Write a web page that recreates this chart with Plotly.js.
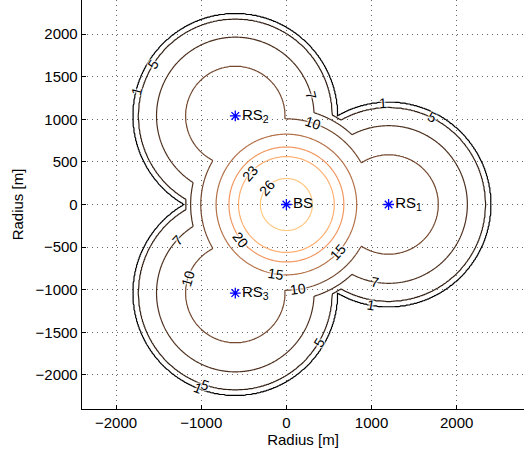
<!DOCTYPE html>
<html>
<head>
<meta charset="utf-8">
<script src="https://cdn.plot.ly/plotly-3.0.1.min.js"></script>
<style>html,body{margin:0;padding:0;background:#fff;}#chart{width:524px;height:455px;}</style>
</head>
<body>
<div id="chart"></div>
<script>
// ---- data ----
const levels = [1, 5, 7, 10, 15, 20, 23, 26];
// radius (m) of each contour level around the base station
const bsRadius = [1192, 1182, 1125, 1005, 825, 675, 563, 305];
// radius (m) of each contour level around a relay station (only levels 1..10 exist)
const rsLevels = [1, 5, 7, 10];
const rsRadius = [1198, 1140, 925, 585];
const bsPeak = 30;   // value at the BS (above highest contour)
const rsPeak = 12;   // value at an RS (between 10 and 15)
const stationNames = ['BS', 'RS<sub>1</sub>', 'RS<sub>2</sub>', 'RS<sub>3</sub>'];
const stationX = [0, 1200, -600, -600];
const stationY = [0, 0, 1039, -1039];
// contour labels: level, station index it circles, angle (deg) around that station
const labelLevel   = [1, 5, 7, 10, 1, 5, 23, 26, 20, 15, 15, 10, 7, 1, 7, 10, 5, 5, 1];
const labelStation = [2, 2, 2, 0, 1, 1, 0, 0, 0, 0, 0, 0, 1, 1, 3, 3, 3, 3, 3];
const labelAngle   = [165.7, 147.6, 14.8, 71.8, 93.1, 63.6, 138.7, 139.4, 217.6, 261.7,
                      317.3, 277.8, 259.9, 260.3, 137.3, 163.2, 329.3, 251.7, 248.5];

// ---- styles ----
function copper(v) { // MATLAB copper colormap, clim [1,26]
  const t = (v - 1) / 25;
  const r = Math.min(1, 1.25 * t), g = 0.7812 * t, b = 0.4975 * t;
  return 'rgb(' + Math.round(r * 255) + ',' + Math.round(g * 255) + ',' + Math.round(b * 255) + ')';
}

function makeProfile(rad, lev, peak) {
  const pts = rad.map((r, i) => [r, lev[i]]);
  pts.push([0, peak]);
  pts.push([5000, -10]);
  pts.sort((a, b) => a[0] - b[0]);
  return function (d) {
    for (let i = 1; i < pts.length; i++) {
      if (d <= pts[i][0]) {
        const t = (d - pts[i - 1][0]) / (pts[i][0] - pts[i - 1][0]);
        return pts[i - 1][1] + t * (pts[i][1] - pts[i - 1][1]);
      }
    }
    return pts[pts.length - 1][1];
  };
}
const fBS = makeProfile(bsRadius, levels, bsPeak);
const fRS = makeProfile(rsRadius, rsLevels, rsPeak);

const step = 10;
const gx = [], gy = [];
for (let x = -2400; x <= 2790; x += step) gx.push(x);
for (let y = -2400; y <= 2400; y += step) gy.push(y);
const z = gy.map(y => gx.map(x => {
  let v = fBS(Math.hypot(x - stationX[0], y - stationY[0]));
  for (let k = 1; k < stationX.length; k++) {
    v = Math.max(v, fRS(Math.hypot(x - stationX[k], y - stationY[k])));
  }
  return v;
}));

const FONT = 'Liberation Sans, Arial, Helvetica, sans-serif';
const traces = levels.map(L => ({
  type: 'contour', x: gx, y: gy, z: z,
  autocontour: false,
  contours: { start: L, end: L, size: 1, coloring: 'none', showlabels: false },
  line: { color: copper(L), width: 1.2, smoothing: 0 },
  showscale: false, hoverinfo: 'skip'
}));
traces.push({
  type: 'scatter', mode: 'markers+text',
  x: stationX, y: stationY, text: stationNames,
  textposition: 'middle right',
  textfont: { family: FONT, size: 15, color: '#000' },
  marker: { symbol: 'asterisk-open', size: 9, color: '#0000ff', line: { color: '#0000ff', width: 1.3 } },
  hoverinfo: 'skip', showlegend: false
});

// contour labels placed on the level's circle around its station, rotated along the line
const annotations = labelLevel.map((L, i) => {
  const s = labelStation[i];
  const r = s === 0 ? bsRadius[levels.indexOf(L)] : rsRadius[rsLevels.indexOf(L)];
  const a = labelAngle[i] * Math.PI / 180;
  let rot = labelAngle[i] + 90;
  while (rot > 90) rot -= 180;
  while (rot <= -90) rot += 180;
  return {
    x: stationX[s] + r * Math.cos(a), y: stationY[s] + r * Math.sin(a),
    xref: 'x', yref: 'y', text: String(L), showarrow: false,
    textangle: -rot,
    font: { family: FONT, size: 14, color: '#000',
            shadow: '0 0 2px #fff, 0 0 2px #fff, 0 0 2px #fff, 0 0 3px #fff, 0 0 3px #fff' }
  };
});

const axisCommon = {
  showgrid: true, griddash: '1px,4px', gridcolor: '#666', gridwidth: 1,
  zeroline: false, showline: true, linecolor: '#000', linewidth: 1.3,
  ticks: 'inside', ticklen: 4, tickcolor: '#000',
  tickfont: { family: FONT, size: 15, color: '#000' }
};
const layout = {
  width: 524, height: 455,
  margin: { l: 82, r: 0, t: 0, b: 46 },
  paper_bgcolor: '#fff', plot_bgcolor: '#fff',
  showlegend: false,
  annotations: annotations,
  xaxis: Object.assign({}, axisCommon, {
    range: [-2400, 2790], tickvals: [-2000, -1000, 0, 1000, 2000],
    title: { text: 'Radius [m]', font: { family: FONT, size: 15, color: '#000' }, standoff: 3 }
  }),
  yaxis: Object.assign({}, axisCommon, {
    range: [-2400, 2400], tickvals: [-2000, -1500, -1000, -500, 0, 500, 1000, 1500, 2000],
    title: { text: 'Radius [m]', font: { family: FONT, size: 15, color: '#000' }, standoff: 8 }
  })
};
Plotly.newPlot('chart', traces, layout, { staticPlot: true, displayModeBar: false });
</script>
</body>
</html>
